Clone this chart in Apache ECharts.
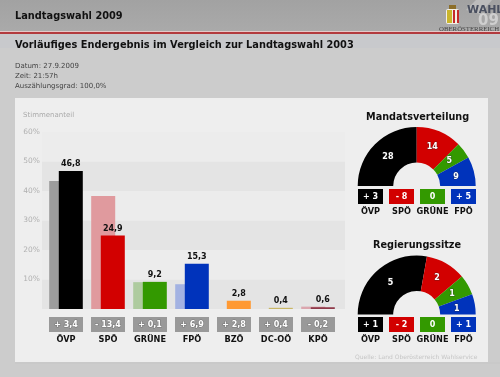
<!DOCTYPE html>
<html>
<head>
<meta charset="utf-8">
<title>Landtagswahl 2009</title>
<script src="https://cdn.jsdelivr.net/npm/echarts@6/dist/echarts.min.js"></script>
<style>
  html, body { margin: 0; padding: 0; background: #cccccc; }
  #chart { width: 500px; height: 377px; }
</style>
</head>
<body>
<div id="chart"></div>
<script>
const FONT = '"DejaVu Sans", Verdana, sans-serif';

const parties = ['ÖVP', 'SPÖ', 'GRÜNE', 'FPÖ', 'BZÖ', 'DC-OÖ', 'KPÖ'];
const votes2009 = [46.8, 24.9, 9.2, 15.3, 2.8, 0.4, 0.6];
const votes2003 = [43.4, 38.3, 9.1, 8.4, 0, 0, 0.8];
const voteDiffs = ['+ 3,4', '- 13,4', '+ 0,1', '+ 6,9', '+ 2,8', '+ 0,4', '- 0,2'];
const yTicks = [0, 10, 20, 30, 40, 50, 60];

const blocParties = ['ÖVP', 'SPÖ', 'GRÜNE', 'FPÖ'];
const mandates = [28, 14, 5, 9];
const mandateDiffs = ['+ 3', '- 8', '0', '+ 5'];
const govSeats = [5, 2, 1, 1];
const govSeatDiffs = ['+ 1', '- 2', '0', '+ 1'];

const colors2009 = ['#000000', '#d20000', '#339900', '#0033bb', '#ff9933', '#c9b765', '#8f3a4a'];
const colors2003 = ['#9c9c9c', '#e09a9e', '#aecb9f', '#a3b2e2', '#ffcc99', '#e4dbb2', '#dba6ae'];
const blocKeys = ['ovp', 'spo', 'gru', 'fpo'];

const chart = echarts.init(document.getElementById('chart'));

function blocRich() {
  const rich = {
    n: { fontFamily: FONT, fontSize: 8.2, fontWeight: 'bold', color: '#111', lineHeight: 14, padding: [2, 0, 0, 0] }
  };
  blocKeys.forEach((k, i) => {
    rich[k] = {
      fontFamily: FONT, fontSize: 8, fontWeight: 'bold', color: '#fff',
      backgroundColor: colors2009[i], width: 25, height: 15, lineHeight: 15, align: 'center'
    };
  });
  return rich;
}

function blocAxes(gridIndex, diffs) {
  return {
    x: {
      type: 'category', gridIndex, data: blocParties,
      axisLine: { show: false }, axisTick: { show: false }, splitLine: { show: false },
      axisLabel: {
        show: true, interval: 0, margin: 0, rich: blocRich(),
        formatter: (v) => {
          const i = blocParties.indexOf(v);
          return `{${blocKeys[i]}|${diffs[i]}}\n{n|${v}}`;
        }
      }
    },
    y: { type: 'value', gridIndex, min: 0, max: 1, show: false }
  };
}

const mandAxes = blocAxes(2, mandateDiffs);
const govAxes = blocAxes(3, govSeatDiffs);

function halfDonut(values, center) {
  return {
    type: 'pie',
    center,
    radius: [23.5, 59],
    startAngle: 180,
    endAngle: 0,
    silent: true,
    animation: false,
    label: {
      position: 'inside', formatter: '{c}', color: '#fff',
      fontFamily: FONT, fontSize: 8, fontWeight: 'bold',
      textBorderColor: 'rgba(40,40,40,0.5)', textBorderWidth: 1
    },
    // pull the numbers a little towards the hole
    labelLayout: (p) => ({
      dx: (center[0] - (p.labelRect.x + p.labelRect.width / 2)) * 0.08,
      dy: 2
    }),
    labelLine: { show: false },
    data: values.map((v, i) => ({
      value: v, name: blocParties[i], itemStyle: { color: colors2009[i] }
    }))
  };
}

function headText(text, left, top, fontSize, color, bold) {
  return {
    text, left, top, padding: 0,
    textStyle: { fontFamily: FONT, fontSize, fontWeight: bold ? 'bold' : 'normal', color }
  };
}

const option = {
  backgroundColor: '#cccccc',
  animation: false,
  graphic: [
    { type: 'rect', z: -10, shape: { x: 0, y: 0, width: 500, height: 32 },
      style: { fill: new echarts.graphic.LinearGradient(0, 0, 0, 1, [
        { offset: 0, color: '#a2a2a2' }, { offset: 1, color: '#aaaaaa' }]) } },
    { type: 'rect', z: -10, shape: { x: 0, y: 31, width: 500, height: 1 }, style: { fill: '#e4c8c8' } },
    { type: 'rect', z: -10, shape: { x: 0, y: 32, width: 500, height: 2 }, style: { fill: '#b23a3e' } },
    { type: 'rect', z: -10, shape: { x: 0, y: 34, width: 500, height: 14 }, style: { fill: '#c8c9cc' } },
    { type: 'rect', z: -10, shape: { x: 15, y: 98, width: 473, height: 264 }, style: { fill: '#eeeeee' } },
    { type: 'rect', z: -10, shape: { x: 15, y: 362, width: 485, height: 2 }, style: { fill: '#c9c9c9' } },
    // logo
    { type: 'polygon', z: -9, shape: { points: [[466, 10], [476, 0], [492, 0], [480, 14]] }, style: { fill: '#bcbcbc' } },
    { type: 'text', z: -9, style: { x: 478, y: 14, text: '09', fill: '#cfcfcf', font: 'bold 15px ' + FONT } },
    { type: 'rect', z: -8, shape: { x: 446, y: 9, width: 13, height: 15, r: 2 }, style: { fill: '#f4f0e4' } },
    { type: 'rect', z: -8, shape: { x: 447, y: 10, width: 5, height: 13 }, style: { fill: '#c9b52c' } },
    { type: 'rect', z: -8, shape: { x: 453, y: 10, width: 2, height: 13 }, style: { fill: '#c62a2a' } },
    { type: 'rect', z: -8, shape: { x: 457, y: 10, width: 2, height: 13 }, style: { fill: '#c62a2a' } },
    { type: 'rect', z: -8, shape: { x: 449, y: 5, width: 7, height: 4 }, style: { fill: '#8c6f2a' } },
    { type: 'text', z: -7, style: { x: 467, y: 5, text: 'WAHL', fill: '#4a5060', font: 'bold 11px ' + FONT } },
    { type: 'text', z: -7, style: { x: 439, y: 26, text: 'OBERÖSTERREICH', fill: '#444', font: '6.8px "Liberation Serif", serif' } }
  ],
  title: [
    headText('Landtagswahl 2009', 15, 11, 9.8, '#111', true),
    headText('Vorläufiges Endergebnis im Vergleich zur Landtagswahl 2003', 15, 40.5, 9.8, '#111', true),
    headText('Datum: 27.9.2009', 15, 62.5, 7, '#444'),
    headText('Zeit: 21:57h', 15, 72.5, 7, '#444'),
    headText('Auszählungsgrad: 100,0%', 15, 82.5, 7, '#444'),
    headText('Stimmenanteil', 23, 111.5, 7, '#aaaaaa'),
    headText('Mandatsverteilung', 366, 112, 9.7, '#111', true),
    headText('Regierungssitze', 373, 240, 9.7, '#111', true),
    headText('Quelle: Land Oberösterreich Wahlservice', 355, 354, 6, '#c6c6c6')
  ],
  grid: [
    { left: 42, top: 132, width: 303, height: 177 },
    { left: 45, top: 132, width: 294, height: 177 },
    { left: 355, top: 188, width: 124, height: 1 },
    { left: 355, top: 316, width: 124, height: 1 }
  ],
  xAxis: [
    { type: 'value', gridIndex: 0, min: 0, max: 1, show: false },
    {
      type: 'category', gridIndex: 1, data: parties,
      axisLine: { show: false }, axisTick: { show: false },
      axisLabel: {
        interval: 0, margin: 8,
        formatter: (v) => `{d|${voteDiffs[parties.indexOf(v)]}}\n{n|${v}}`,
        rich: {
          d: {
            fontFamily: FONT, fontSize: 8, fontWeight: 'bold', color: '#ffffff',
            textBorderColor: '#777', textBorderWidth: 1,
            backgroundColor: '#999999', width: 34, height: 15, lineHeight: 15, align: 'center'
          },
          n: { fontFamily: FONT, fontSize: 8.2, fontWeight: 'bold', color: '#111', lineHeight: 14, padding: [2, 0, 0, 0] }
        }
      }
    },
    mandAxes.x,
    govAxes.x
  ],
  yAxis: [
    {
      type: 'value', gridIndex: 0, min: yTicks[0], max: yTicks[yTicks.length - 1], interval: 10,
      axisLine: { show: false }, axisTick: { show: false }, splitLine: { show: false },
      splitArea: { show: true, areaStyle: { color: ['#e4e4e4', '#ececec'] } },
      axisLabel: {
        margin: 2, color: '#b0b0b0', fontFamily: FONT, fontSize: 7.5,
        formatter: (v) => (v === 0 ? '' : v + '%')
      }
    },
    { type: 'value', gridIndex: 1, min: yTicks[0], max: yTicks[yTicks.length - 1], show: false },
    mandAxes.y,
    govAxes.y
  ],
  series: [
    {
      name: '2003', type: 'bar', xAxisIndex: 1, yAxisIndex: 1,
      barWidth: 24, barGap: '-60%', silent: true,
      data: votes2003.map((v, i) => ({ value: v, itemStyle: { color: colors2003[i] } }))
    },
    {
      name: '2009', type: 'bar', xAxisIndex: 1, yAxisIndex: 1,
      barWidth: 24, silent: true,
      label: {
        show: true, position: 'top', distance: 3,
        fontFamily: FONT, fontSize: 8, fontWeight: 'bold', color: '#111',
        formatter: (p) => String(p.value).replace('.', ',')
      },
      data: votes2009.map((v, i) => ({ value: v, itemStyle: { color: colors2009[i] } }))
    },
    halfDonut(mandates, [416.7, 186]),
    halfDonut(govSeats, [416.7, 314.5])
  ]
};

chart.setOption(option);
</script>
</body>
</html>
